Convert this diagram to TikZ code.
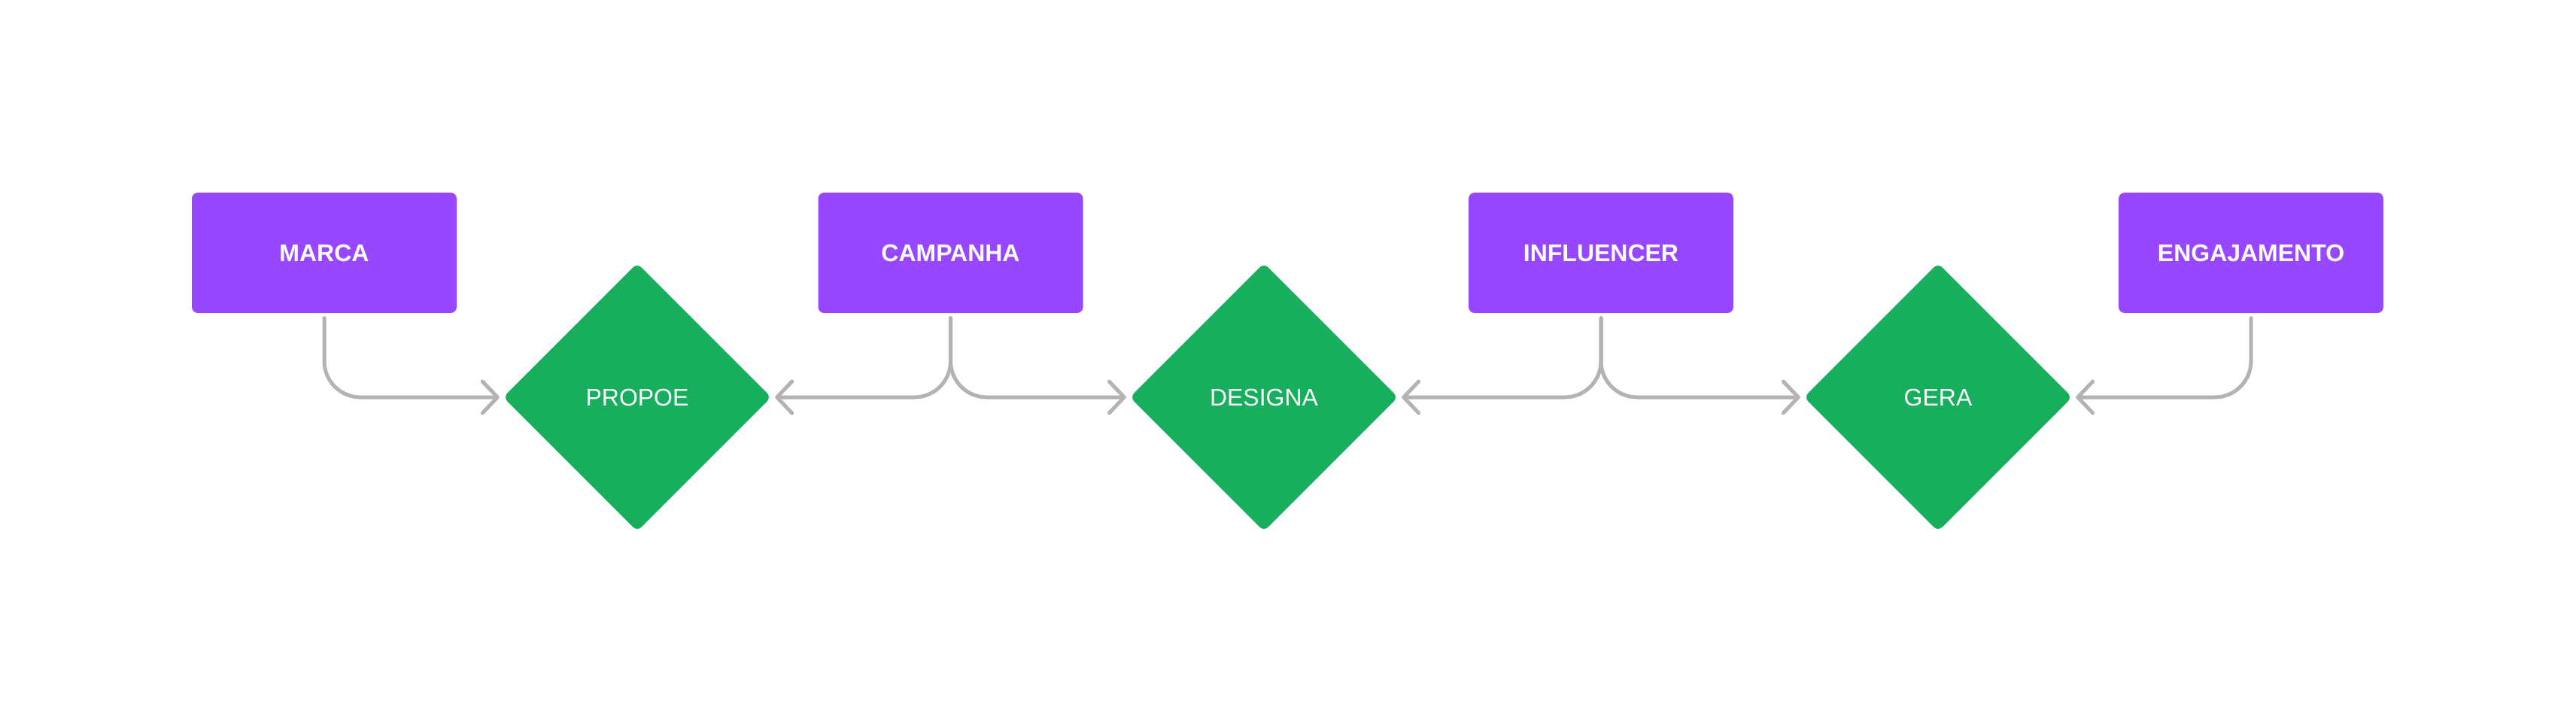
\documentclass[tikz,border=0pt]{standalone}
\usepackage{fontspec}
\setmainfont{Liberation Sans}
\usetikzlibrary{shapes.geometric,arrows.meta}
\definecolor{roxo}{HTML}{9747FF}
\definecolor{verde}{HTML}{17AE5E}
\definecolor{cinza}{HTML}{B3B3B3}

\begin{document}
\begin{tikzpicture}[
entidade/.style={fill=roxo, rounded corners=0.08cm, minimum width=3.52cm, minimum height=1.6cm, text=white, font=\fontsize{9.1}{11}\selectfont\bfseries},
relacao/.style={diamond, fill=verde, rounded corners=0.08cm, minimum width=3.57cm, minimum height=3.57cm, inner sep=0pt, text=white, font=\fontsize{9.1}{11}\selectfont},
liga/.style={cinza, line width=0.05cm, rounded corners=0.48cm, line cap=round, -{Straight Barb[length=0.2cm,width=0.42cm,line cap=round,line join=round]}, shorten <=0.06cm, shorten >=0.04cm}
]
\useasboundingbox (0,0) rectangle (34.24,9.6);
% entidades
\foreach \nome/\x/\texto in {marca/4.31/MARCA, campanha/12.635/CAMPANHA, influencer/21.28/INFLUENCER, engajamento/29.92/ENGAJAMENTO}{
	\node[entidade] (\nome) at (\x,6.24) {\texto};
}
% relacoes
\node[relacao] (propoe) at (8.47,4.32) {PROPOE};
\node[relacao] (designa) at (16.80,4.32) {DESIGNA};
\node[relacao] (gera) at (25.76,4.32) {GERA};
% ligacoes
\draw[liga] (marca.south) |- (propoe.west);
\draw[liga] (campanha.south) |- (propoe.east);
\draw[liga] (campanha.south) |- (designa.west);
\draw[liga] (influencer.south) |- (designa.east);
\draw[liga] (influencer.south) |- (gera.west);
\draw[liga] (engajamento.south) |- (gera.east);
\end{tikzpicture}
\end{document}
